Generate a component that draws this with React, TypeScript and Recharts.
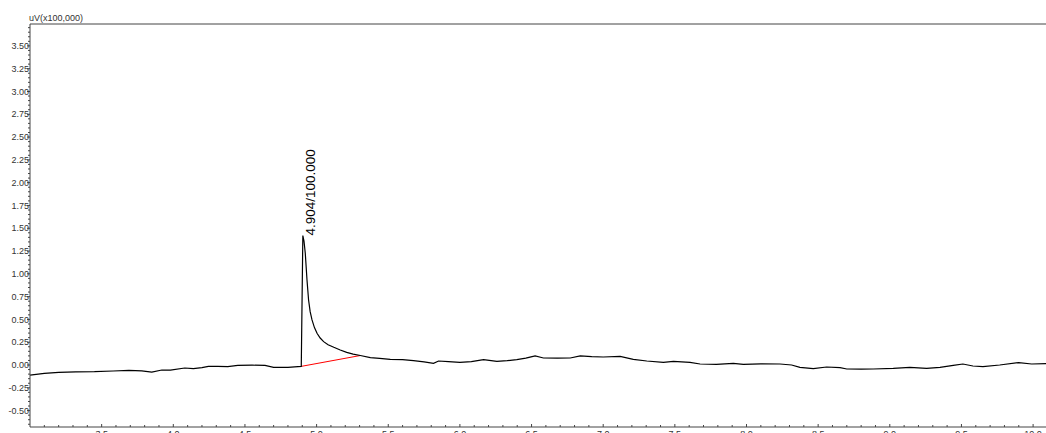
import React from 'react';
import { LineChart, Line, XAxis, YAxis, ReferenceLine, ReferenceDot } from 'recharts';

// Retention time (min) of each sample
const times = [
  3.0, 3.1, 3.2, 3.32, 3.45, 3.58, 3.69, 3.78, 3.85, 3.92, 3.98, 4.08, 4.14, 4.2, 4.245,
  4.31, 4.38, 4.45, 4.55, 4.64, 4.7, 4.8, 4.87, 4.893, 4.904, 4.912, 4.921, 4.933, 4.944,
  4.955, 4.968, 4.985, 5.003, 5.025, 5.049, 5.08, 5.12, 5.165, 5.21, 5.255, 5.305, 5.375,
  5.44, 5.514, 5.6, 5.676, 5.75, 5.816, 5.851, 5.92, 6.0, 6.08, 6.165, 6.258, 6.33, 6.397,
  6.46, 6.525, 6.583, 6.68, 6.77, 6.84, 6.92, 7.0, 7.118, 7.21, 7.304, 7.42, 7.49, 7.606,
  7.676, 7.79, 7.908, 7.978, 8.1, 8.234, 8.315, 8.373, 8.466, 8.559, 8.653, 8.7, 8.8,
  8.884, 9.024, 9.14, 9.257, 9.35, 9.443, 9.51, 9.58, 9.65, 9.767, 9.9, 9.99, 10.09,
];

// Detector signal (uV x100,000)
const signal = [
  -0.11, -0.092, -0.08, -0.075, -0.073, -0.066, -0.06, -0.065, -0.077, -0.055, -0.057,
  -0.033, -0.04, -0.028, -0.015, -0.014, -0.018, -0.004, -0.002, -0.004, -0.026, -0.026,
  -0.018, -0.015, 1.42, 1.36, 1.226, 0.933, 0.713, 0.585, 0.494, 0.41, 0.348, 0.296,
  0.256, 0.222, 0.194, 0.165, 0.139, 0.12, 0.104, 0.08, 0.073, 0.062, 0.058, 0.047, 0.035,
  0.018, 0.044, 0.036, 0.029, 0.038, 0.058, 0.04, 0.047, 0.058, 0.075, 0.099, 0.077,
  0.075, 0.077, 0.099, 0.092, 0.088, 0.095, 0.062, 0.044, 0.029, 0.04, 0.029, 0.011,
  0.007, 0.018, 0.007, 0.012, 0.011, 0, -0.026, -0.04, -0.022, -0.029, -0.044, -0.046,
  -0.044, -0.037, -0.026, -0.037, -0.026, -0.004, 0.011, -0.011, -0.018, 0, 0.026, 0.011,
  0.015,
];

// Integrated peak: apex and baseline start/end
const peakTime = 4.904;
const peakHeight = 1.42;
const peakArea = '100.000';
const baselineStart = { x: 4.893, y: -0.015 };
const baselineEnd = { x: 5.305, y: 0.104 };

// Axis ticks
const yTicks: number[] = [];
for (let i = -13; i <= 74; i++) yTicks.push(Math.round(i * 5) / 100);
const xTicks: number[] = [];
for (let i = 31; i <= 100; i++) xTicks.push(i / 10);

const data = times.map((t, i) => ({ t, v: signal[i] }));

const FONT = '"Liberation Sans", Arial, sans-serif';
const AXIS_X = 30;
const AXIS_BOTTOM = 427;

const YTick = (props: any) => {
  const { y, payload } = props;
  const val = payload.value as number;
  const major = Math.abs(Math.round(val * 4) - val * 4) < 1e-6;
  return (
    <g>
      <line x1={AXIS_X - (major ? 3 : 2)} x2={AXIS_X} y1={y} y2={y} stroke="#444" strokeWidth={1} />
      {major && (
        <text x={AXIS_X - 1} y={y} dy="0.35em" textAnchor="end" fontSize={9} fontFamily={FONT} fill="#333">
          {val.toFixed(2)}
        </text>
      )}
    </g>
  );
};

const XTick = (props: any) => {
  const { x, payload } = props;
  const val = payload.value as number;
  const major = Math.abs(Math.round(val * 2) - val * 2) < 1e-6;
  return (
    <g>
      <line x1={x} x2={x} y1={AXIS_BOTTOM} y2={AXIS_BOTTOM - (major ? 3 : 2)} stroke="#444" strokeWidth={1} />
      {major && (
        <text x={x} y={AXIS_BOTTOM + 10} textAnchor="middle" fontSize={9} fontFamily={FONT} fill="#333">
          {val.toFixed(1)}
        </text>
      )}
    </g>
  );
};

const PeakLabel = (props: any) => {
  const { cx, cy } = props;
  const lx = cx + 12;
  return (
    <text
      x={lx}
      y={cy}
      transform={`rotate(-90, ${lx}, ${cy})`}
      fontSize={13.5}
      fontFamily={FONT}
      fill="#000"
    >
      {`${peakTime.toFixed(3)}/${peakArea}`}
    </text>
  );
};

export default function App() {
  return (
    <div style={{ position: 'absolute', left: 0, top: 0, width: 1046, height: 433, background: '#fff' }}>
      <svg width={1046} height={433} style={{ position: 'absolute', left: 0, top: 0 }}>
        <text x={29} y={21} fontSize={9} fontFamily={FONT} fill="#333">uV(x100,000)</text>
        <line x1={AXIS_X} x2={1046} y1={24} y2={24} stroke="#444" strokeWidth={1} />
      </svg>
      <div style={{ position: 'absolute', left: 0, top: 0 }}>
        <LineChart
          width={1046}
          height={433}
          data={data}
          margin={{ top: 24, right: 0, bottom: 5, left: 29 }}
        >
          <XAxis
            dataKey="t"
            type="number"
            domain={[3.0, 10.09]}
            ticks={xTicks}
            interval={0}
            allowDataOverflow
            height={1}
            tickLine={false}
            axisLine={{ stroke: '#444', strokeWidth: 1 }}
            tick={<XTick />}
          />
          <YAxis
            type="number"
            domain={[-0.68, 3.74]}
            ticks={yTicks}
            interval={0}
            allowDataOverflow
            width={1}
            tickLine={false}
            axisLine={{ stroke: '#444', strokeWidth: 1 }}
            tick={<YTick />}
          />
          <ReferenceLine
            segment={[baselineStart, baselineEnd]}
            stroke="#ff0000"
            strokeWidth={1}
            ifOverflow="visible"
          />
          <Line
            type="linear"
            dataKey="v"
            stroke="#000"
            strokeWidth={1.2}
            dot={false}
            activeDot={false}
            isAnimationActive={false}
          />
          <ReferenceDot x={peakTime} y={peakHeight} r={0} ifOverflow="visible" shape={<PeakLabel />} />
        </LineChart>
      </div>
    </div>
  );
}
